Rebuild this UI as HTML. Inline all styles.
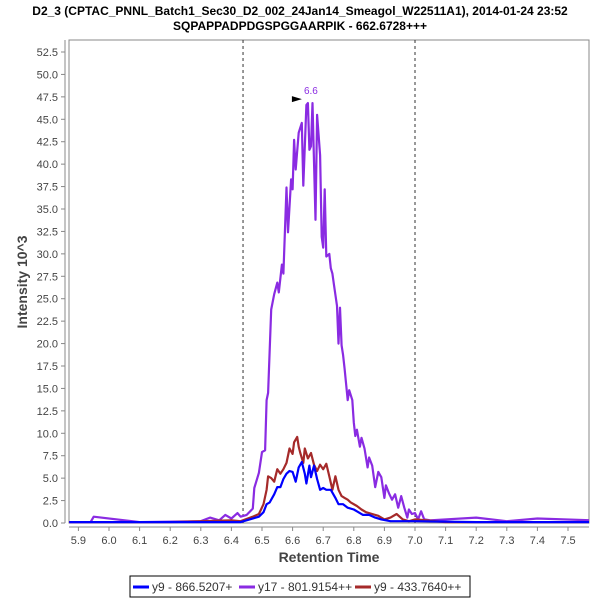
<!DOCTYPE html>
<html><head><meta charset="utf-8"><style>
body{margin:0;background:#fff;}
svg{display:block;font-family:"Liberation Sans",sans-serif;}
</style></head><body>
<svg id="chart" width="600" height="600">
<defs><clipPath id="clip"><rect x="69" y="40" width="520" height="486"/></clipPath></defs>
<text x="300" y="15" text-anchor="middle" font-size="12" font-weight="bold">D2_3 (CPTAC_PNNL_Batch1_Sec30_D2_002_24Jan14_Smeagol_W22511A1), 2014-01-24 23:52</text>
<text x="300" y="30" text-anchor="middle" font-size="12" font-weight="bold">SQPAPPADPDGSPGGAARPIK - 662.6728+++</text>
<rect x="69" y="40" width="520" height="483" fill="#fff" stroke="#888"/>
<g id="axes"></g>
<g id="marks" clip-path="url(#clip)"></g>
<text transform="translate(27,282) rotate(-90)" text-anchor="middle" font-size="14" font-weight="bold" fill="#444">Intensity 10^3</text>
<text x="329" y="562" text-anchor="middle" font-size="14" font-weight="bold" fill="#444">Retention Time</text>
<g>
<rect x="130" y="576" width="340" height="21" fill="#fff" stroke="#000"/>
<g><line x1="133" y1="587" x2="149" y2="587" stroke="#0000ff" stroke-width="3"/><text x="152" y="591" font-size="12" fill="#333">y9 - 866.5207+</text></g>
<g><line x1="239" y1="587" x2="255" y2="587" stroke="#8a2be2" stroke-width="3"/><text x="258" y="591" font-size="12" fill="#333">y17 - 801.9154++</text></g>
<g><line x1="355" y1="587" x2="371" y2="587" stroke="#a52a2a" stroke-width="3"/><text x="374" y="591" font-size="12" fill="#333">y9 - 433.7640++</text></g>
</g>
</svg>
<script>
const yTicks=[0,2.5,5,7.5,10,12.5,15,17.5,20,22.5,25,27.5,30,32.5,35,37.5,40,42.5,45,47.5,50,52.5];
const xTicks=[5.9,6.0,6.1,6.2,6.3,6.4,6.5,6.6,6.7,6.8,6.9,7.0,7.1,7.2,7.3,7.4,7.5];
const markerLines=[6.438,7.0];
const y17Times=[5.87,5.94,5.95,6.1,6.3,6.33,6.36,6.38,6.40,6.42,6.43,6.45,6.47,6.475,6.49,6.50,6.51,6.515,6.52,6.53,6.54,6.55,6.555,6.565,6.57,6.58,6.585,6.595,6.60,6.605,6.61,6.62,6.63,6.635,6.645,6.65,6.655,6.66,6.665,6.675,6.68,6.69,6.695,6.70,6.705,6.71,6.72,6.725,6.73,6.735,6.745,6.75,6.755,6.76,6.765,6.77,6.78,6.785,6.795,6.80,6.805,6.81,6.82,6.825,6.835,6.845,6.85,6.86,6.87,6.88,6.89,6.90,6.905,6.915,6.925,6.935,6.945,6.955,6.965,6.975,6.98,6.99,7.00,7.01,7.02,7.03,7.05,7.2,7.3,7.4,7.57];
const y17Values=[0.1,0.1,0.7,0.1,0.2,0.6,0.3,0.9,0.5,1.1,0.7,0.9,1.6,3.9,5.6,7.9,8.1,13.7,14.5,23.8,25.5,26.8,25.7,28.8,27.8,37.4,32.4,38.3,37.2,42.7,39.4,43.5,44.6,37.6,46.6,46.8,41.6,42,46.8,33.8,45.5,41,31.9,30.7,37.2,29.7,30,28.4,27.8,26.6,24.2,20,24,19.8,18.7,17.2,13.7,14.8,13.7,11.2,9.7,10.4,8.5,9.5,8.3,6.2,7.3,6.4,4.0,5.7,5.1,2.8,4.2,3.3,2.6,3.2,1.7,3,1.7,0.6,1.5,1,1.1,0.4,1.3,0.4,0.3,0.6,0.2,0.5,0.3];
const y9bTimes=[5.87,6.2,6.4,6.43,6.47,6.49,6.505,6.515,6.52,6.53,6.54,6.55,6.56,6.57,6.58,6.59,6.60,6.605,6.615,6.62,6.625,6.635,6.64,6.65,6.66,6.67,6.68,6.69,6.70,6.71,6.72,6.73,6.74,6.75,6.76,6.77,6.78,6.79,6.81,6.825,6.84,6.86,6.88,6.90,6.92,6.94,6.96,6.98,7.00,7.1,7.57];
const y9bValues=[0.1,0.1,0.3,0.2,0.7,1,2.1,3.7,5.2,5,4.6,6,5.5,6,6.7,8.3,7.7,9,9.6,8.5,7.8,6.7,8.3,7.2,7.8,6.5,5.8,6.5,6,6.6,5.2,3.7,5.2,3.7,3,2.8,2.6,2.3,1.9,1.5,1.2,1,0.8,0.4,0.6,1,0.4,0.2,0.4,0.1,0.1];
const y9aTimes=[5.87,6.3,6.43,6.49,6.505,6.515,6.525,6.54,6.55,6.56,6.57,6.58,6.59,6.60,6.61,6.62,6.63,6.64,6.645,6.655,6.66,6.67,6.68,6.69,6.70,6.71,6.725,6.74,6.75,6.765,6.78,6.80,6.81,6.83,6.85,6.87,6.89,6.92,6.96,7.00,7.2,7.57];
const y9aValues=[0.1,0.1,0.1,0.7,1.2,2.1,2.3,3.2,4,4,4.9,5.5,5.8,5.7,4.6,6.2,6.8,5.5,4.4,6.4,5.1,6.4,4.9,3.7,3.9,3.7,3.7,2.8,2.1,2.1,1.7,1.5,1.3,0.9,0.9,0.6,0.4,0.2,0.2,0.2,0.1,0.1];
const peakLabel=["6.6"];
const peakTime=[6.65];
const peakValue=[46.8];

const NS="http://www.w3.org/2000/svg";
const X0=69,X1=589,Y0=523,Y1=40;
function sx(t){return 109+(t-6.0)*306;}
function sy(v){return Y0-v*(Y0-52)/52.5;}
function mk(tag,attrs,parent){const e=document.createElementNS(NS,tag);for(const k in attrs)e.setAttribute(k,attrs[k]);parent.appendChild(e);return e;}
const axes=document.getElementById('axes'),marks=document.getElementById('marks');
const yl=mk('line',{x1:65,y1:Y1,x2:65,y2:Y0,stroke:'#888'},axes);


yTicks.forEach(v=>{
  const y=sy(v);
  mk('line',{x1:61,y1:y,x2:65,y2:y,stroke:'#888'},axes);
  const t=mk('text',{x:58,y:y+4,'text-anchor':'end','font-size':11,fill:'#444'},axes);
  t.textContent=v.toFixed(1);
  
  
});
const xl=mk('line',{x1:X0,y1:527,x2:X1,y2:527,stroke:'#888'},axes);


xTicks.forEach(v=>{
  const x=sx(v);
  mk('line',{x1:x,y1:527,x2:x,y2:531,stroke:'#888'},axes);
  const t=mk('text',{x:x,y:544,'text-anchor':'middle','font-size':11,fill:'#444'},axes);
  t.textContent=v.toFixed(1);
  
  
});
markerLines.forEach(v=>{
  const l=mk('line',{x1:sx(v),y1:Y1,x2:sx(v),y2:Y0,stroke:'#333','stroke-dasharray':'3,3'},marks);
  
  
});
function series(times,vals,color,name){
  const d=times.map((t,i)=>(i?'L':'M')+sx(t).toFixed(1)+','+sy(vals[i]).toFixed(1)).join('');
  const p=mk('path',{d:d,fill:'none',stroke:color,'stroke-width':2.2,'stroke-linejoin':'round'},marks);
  
  
}
series(y17Times,y17Values,'#8a2be2','series-y17');
series(y9bTimes,y9bValues,'#a52a2a','series-y9-433');
series(y9aTimes,y9aValues,'#0000ff','series-y9-866');
const px=sx(peakTime[0]),py=sy(peakValue[0]);
const tri=mk('path',{d:`M${px-6},${py-4}L${px-16},${py-7}L${px-16},${py-1}Z`,fill:'#000'},marks);


const pl=mk('text',{x:px+3,y:py-9,'text-anchor':'middle','font-size':10,fill:'#8a2be2'},marks);
pl.textContent=peakLabel[0];


</script>
</body></html>
